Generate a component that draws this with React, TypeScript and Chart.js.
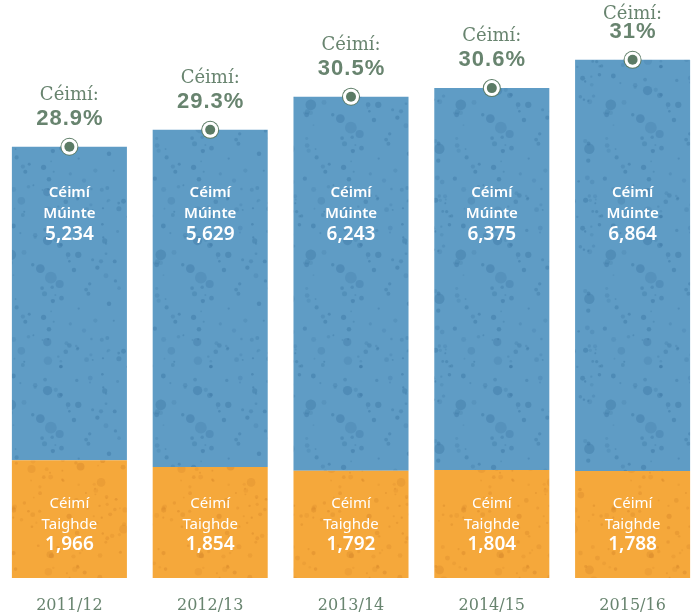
import React, { useEffect, useRef } from "react";
import { Chart, registerables } from "chart.js";

Chart.register(...registerables);

const years = ["2011/12", "2012/13", "2013/14", "2014/15", "2015/16"];
const taighde = [1966, 1854, 1792, 1804, 1788];
const muinte = [5234, 5629, 6243, 6375, 6864];
const pctLabels = ["28.9%", "29.3%", "30.5%", "30.6%", "31%"];

const GREEN = "#68846f";
const MARK = "#5b7b65";
const BLUE = "#5f9cc5";
const ORANGE = "#f5a83b";

function fmt(n: number) {
  return n.toLocaleString("en-US");
}

function makePattern(base: string, dot: string, seed: number) {
  const size = 150;
  const c = document.createElement("canvas");
  c.width = size;
  c.height = size;
  const g = c.getContext("2d")!;
  g.fillStyle = base;
  g.fillRect(0, 0, size, size);
  let s = seed;
  const next = () => {
    s = (s * 16807) % 2147483647;
    return s / 2147483647;
  };
  for (let i = 0; i < 130; i++) {
    const x = next() * size;
    const y = next() * size;
    const big = next() < 0.07;
    const r = big ? 3 + next() * 3 : 0.8 + next() * 1.8;
    g.globalAlpha = 0.22 + next() * 0.3;
    g.fillStyle = dot;
    for (const dx of [-size, 0, size]) {
      for (const dy of [-size, 0, size]) {
        g.beginPath();
        g.arc(x + dx, y + dy, r, 0, Math.PI * 2);
        g.fill();
      }
    }
  }
  g.globalAlpha = 1;
  return g.createPattern(c, "repeat")!;
}

const labelsPlugin = {
  id: "barLabels",
  afterDatasetsDraw(chart: any) {
    const ctx = chart.ctx as CanvasRenderingContext2D;
    const area = chart.chartArea;
    const meta = chart.getDatasetMeta(1);
    const xScale = chart.scales.x;
    ctx.save();
    ctx.textAlign = "center";
    ctx.textBaseline = "alphabetic";
    meta.data.forEach((bar: any, i: number) => {
      const x = bar.x;
      // blue (Múinte) labels
      ctx.fillStyle = "#ffffff";
      ctx.font = '600 15px "Noto Sans"';
      ctx.fillText("Céimí", x, area.top + 197);
      ctx.fillText("Múinte", x, area.top + 218);
      ctx.font = '600 19px "Noto Sans"';
      ctx.fillText(fmt(muinte[i]), x, area.top + 240);
      // orange (Taighde) labels
      ctx.font = '400 15px "Noto Sans"';
      ctx.fillText("Céimí", x, area.bottom - 70);
      ctx.fillText("Taighde", x, area.bottom - 49);
      ctx.font = '600 19px "Noto Sans"';
      ctx.fillText(fmt(taighde[i]), x, area.bottom - 28);
      // marker
      const top = bar.y;
      ctx.beginPath();
      ctx.arc(x, top, 9, 0, Math.PI * 2);
      ctx.fillStyle = MARK;
      ctx.fill();
      ctx.beginPath();
      ctx.arc(x, top, 8, 0, Math.PI * 2);
      ctx.fillStyle = "#ffffff";
      ctx.fill();
      ctx.beginPath();
      ctx.arc(x, top, 5, 0, Math.PI * 2);
      ctx.fillStyle = MARK;
      ctx.fill();
      // percentage labels
      ctx.fillStyle = GREEN;
      ctx.font = '18px "DejaVu Serif"';
      ctx.fillText("Céimí:", x, Math.max(top - 47, area.top + 19));
      ctx.font = 'bold 22px "Liberation Sans"';
      (ctx as any).letterSpacing = "1px";
      ctx.fillText(pctLabels[i], x + 0.5, top - 22);
      (ctx as any).letterSpacing = "0px";
      // category labels
      ctx.font = '16px "DejaVu Serif"';
      ctx.fillText(years[i], xScale.getPixelForValue(i), area.bottom + 32);
    });
    ctx.restore();
  },
};

export default function App() {
  const ref = useRef<HTMLCanvasElement | null>(null);
  useEffect(() => {
    const canvas = ref.current!;
    const bluePat = makePattern(BLUE, "#3f7aa6", 12345);
    const orangePat = makePattern(ORANGE, "#d98a2c", 67891);
    const chart = new Chart(canvas, {
      type: "bar",
      data: {
        labels: years,
        datasets: [
          {
            label: "Céimí Taighde",
            data: taighde,
            backgroundColor: orangePat as any,
            borderWidth: 0,
            barPercentage: 0.817,
            categoryPercentage: 1,
          },
          {
            label: "Céimí Múinte",
            data: muinte,
            backgroundColor: bluePat as any,
            borderWidth: 0,
            barPercentage: 0.817,
            categoryPercentage: 1,
          },
        ],
      },
      options: {
        responsive: false,
        animation: false,
        layout: { padding: { top: 0, bottom: 37, left: 0, right: 0 } },
        plugins: {
          legend: { display: false },
          tooltip: { enabled: false },
        },
        scales: {
          x: {
            stacked: true,
            display: false,
          },
          y: {
            stacked: true,
            display: false,
            min: 0,
            max: 9650,
          },
        },
      },
      plugins: [labelsPlugin],
    });
    return () => chart.destroy();
  }, []);
  return (
    <div
      style={{
        position: "absolute",
        left: 0,
        top: 0,
        width: 694,
        height: 615,
        overflow: "hidden",
        background: "#ffffff",
      }}
    >
      <canvas
        ref={ref}
        width={704}
        height={615}
        style={{ position: "absolute", left: -1, top: 0, width: 704, height: 615 }}
      />
    </div>
  );
}
